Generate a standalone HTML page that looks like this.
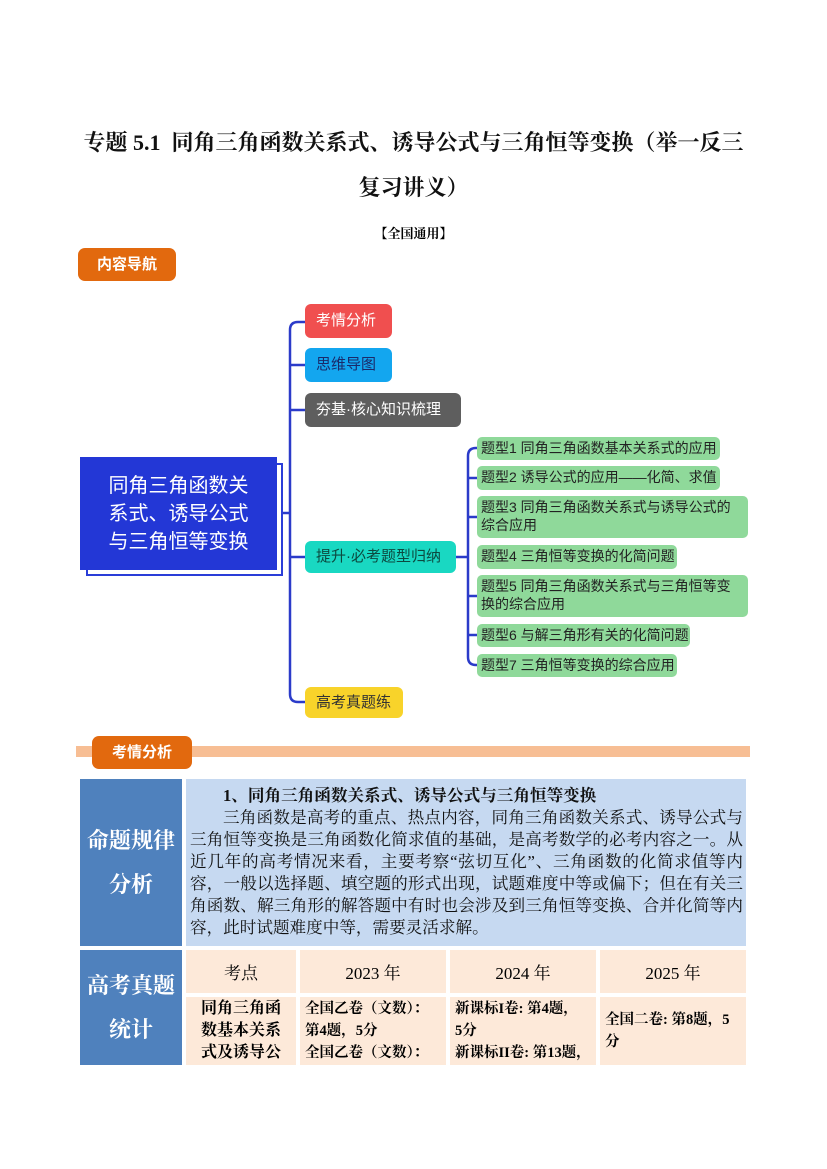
<!DOCTYPE html>
<html><head><meta charset="utf-8"><style>
*{margin:0;padding:0;box-sizing:border-box}
body{width:827px;height:1169px;background:#fff;position:relative;font-family:"Liberation Serif","Noto Serif CJK SC","Noto Sans CJK SC",serif;overflow:hidden}
.a{position:absolute}
.t{font-weight:bold;font-size:22px;color:#111;width:827px;text-align:center}
.n{position:absolute;border-radius:6px;font-family:"Liberation Sans","Noto Sans CJK SC",sans-serif;font-size:15px;padding-left:11px;line-height:34px}
.g{position:absolute;left:477px;background:#8fd99a;border-radius:5px;font-family:"Liberation Sans","Noto Sans CJK SC",sans-serif;font-size:14px;color:#222;padding:2px 4px;line-height:18px;white-space:nowrap}
.g2{white-space:normal}
.c{position:absolute;display:flex;align-items:center;justify-content:center;text-align:center}
</style></head><body>
<div class="a t" style="top:126px;left:0px;white-space:nowrap">专题 5.1&nbsp; 同角三角函数关系式、诱导公式与三角恒等变换（举一反三</div>
<div class="a t" style="top:171px">复习讲义）</div>
<div class="a" style="top:223px;width:827px;text-align:center;font-weight:bold;font-size:13px">【全国通用】</div>
<div class="a" style="left:78px;top:248px;width:98px;height:33px;background:#e2690e;border-radius:7px;color:#fff;font-family:'Liberation Sans','Noto Sans CJK SC',sans-serif;font-weight:bold;font-size:15px;text-align:center;line-height:33px">内容导航</div>

<svg class="a" style="left:0;top:0" width="827" height="1169">
<g fill="none" stroke="#2b3bc9" stroke-width="2.5">
<path d="M277 513 H290 M298 322 Q290 322 290 330 V694 Q290 702 298 702 H305"/>
<path d="M290 365 H305 M290 410 H305 M290 557 H305 M298 322 H305"/>
<path d="M456 557 H468 M476 448 Q468 448 468 456 V657 Q468 665 476 665 H477"/>
<path d="M468 478 H477 M468 517 H477 M468 596 H477 M468 635 H477 M476 448 H477"/>
</g>
</svg>
<div class="a" style="left:86px;top:463px;width:197px;height:113px;background:#fff;border:2px solid #2a3ed8"></div>
<div class="c" style="left:80px;top:457px;width:197px;height:113px;background:#2337d6;color:#fff;font-family:'Liberation Sans','Noto Sans CJK SC',sans-serif;font-size:20px;line-height:28px;padding:0 20px">同角三角函数关系式、诱导公式与三角恒等变换</div>

<div class="n" style="left:305px;top:304px;width:87px;height:34px;background:#f04f4f;color:#fff">考情分析</div>
<div class="n" style="left:305px;top:348px;width:87px;height:34px;background:#13a6ef;color:#1a2a6a">思维导图</div>
<div class="n" style="left:305px;top:393px;width:156px;height:34px;background:#5e5e5e;color:#fff">夯基·核心知识梳理</div>
<div class="n" style="left:305px;top:541px;width:151px;height:32px;line-height:32px;background:#19d8c2;color:#0c4a40">提升·必考题型归纳</div>
<div class="n" style="left:305px;top:687px;width:98px;height:31px;line-height:31px;background:#f8d32a;color:#333">高考真题练</div>

<div class="g" style="top:437px;width:243px;height:23px">题型1 同角三角函数基本关系式的应用</div>
<div class="g" style="top:466px;width:243px;height:24px">题型2 诱导公式的应用——化简、求值</div>
<div class="g g2" style="top:496px;width:271px;height:42px">题型3 同角三角函数关系式与诱导公式的综合应用</div>
<div class="g" style="top:545px;width:200px;height:24px">题型4 三角恒等变换的化简问题</div>
<div class="g g2" style="top:575px;width:271px;height:42px">题型5 同角三角函数关系式与三角恒等变换的综合应用</div>
<div class="g" style="top:624px;width:213px;height:23px">题型6 与解三角形有关的化简问题</div>
<div class="g" style="top:654px;width:200px;height:23px">题型7 三角恒等变换的综合应用</div>

<div class="a" style="left:76px;top:746px;width:674px;height:11px;background:#f7be94"></div>
<div class="a" style="left:92px;top:736px;width:100px;height:33px;background:#e2690e;border-radius:7px;color:#fff;font-family:'Liberation Sans','Noto Sans CJK SC',sans-serif;font-weight:bold;font-size:15px;text-align:center;line-height:33px">考情分析</div>

<div class="c" style="left:80px;top:779px;width:102px;height:167px;background:#4f81bd;color:#fff;font-weight:bold;font-size:22px;line-height:44px;padding:0 2px">命题规律分析</div>
<div class="a" style="left:186px;top:779px;width:560px;height:167px;background:#c6d9f1;font-size:16.6px;line-height:22px;padding:6px 3px 0 4px;color:#111">
<div style="font-weight:bold;text-indent:33px">1、同角三角函数关系式、诱导公式与三角恒等变换</div>
<div style="text-indent:33px;text-align:justify">三角函数是高考的重点、热点内容，同角三角函数关系式、诱导公式与三角恒等变换是三角函数化简求值的基础，是高考数学的必考内容之一。从近几年的高考情况来看，主要考察“弦切互化”、三角函数的化简求值等内容，一般以选择题、填空题的形式出现，试题难度中等或偏下；但在有关三角函数、解三角形的解答题中有时也会涉及到三角恒等变换、合并化简等内容，此时试题难度中等，需要灵活求解。</div>
</div>
<div class="c" style="left:80px;top:950px;width:102px;height:115px;background:#4f81bd;color:#fff;font-weight:bold;font-size:22px;line-height:44px;padding:0 2px">高考真题统计</div>
<div class="c" style="left:186px;top:950px;width:110px;height:43px;background:#fde9d9;font-size:17px">考点</div>
<div class="c" style="left:300px;top:950px;width:146px;height:43px;background:#fde9d9;font-size:17px">2023 年</div>
<div class="c" style="left:450px;top:950px;width:146px;height:43px;background:#fde9d9;font-size:17px">2024 年</div>
<div class="c" style="left:600px;top:950px;width:146px;height:43px;background:#fde9d9;font-size:17px">2025 年</div>
<div class="a" style="left:186px;top:997px;width:110px;height:68px;background:#fde9d9;font-size:16px;line-height:22px;text-align:center;padding:1px 8px;font-weight:bold;overflow:hidden">同角三角函数基本关系式及诱导公</div>
<div class="a" style="left:300px;top:997px;width:146px;height:68px;background:#fde9d9;font-size:14.5px;line-height:22px;padding:1px 5px;font-weight:bold;overflow:hidden;white-space:nowrap">全国乙卷（文数）：<br>第4题，5分<br>全国乙卷（文数）：</div>
<div class="a" style="left:450px;top:997px;width:146px;height:68px;background:#fde9d9;font-size:14.5px;line-height:22px;padding:1px 5px;font-weight:bold;overflow:hidden;white-space:nowrap">新课标I卷: 第4题，<br>5分<br>新课标II卷: 第13题，</div>
<div class="a" style="left:600px;top:997px;width:146px;height:68px;background:#fde9d9;font-size:14.5px;line-height:22px;padding:12px 5px;font-weight:bold;overflow:hidden">全国二卷: 第8题，5分</div>
</body></html>
